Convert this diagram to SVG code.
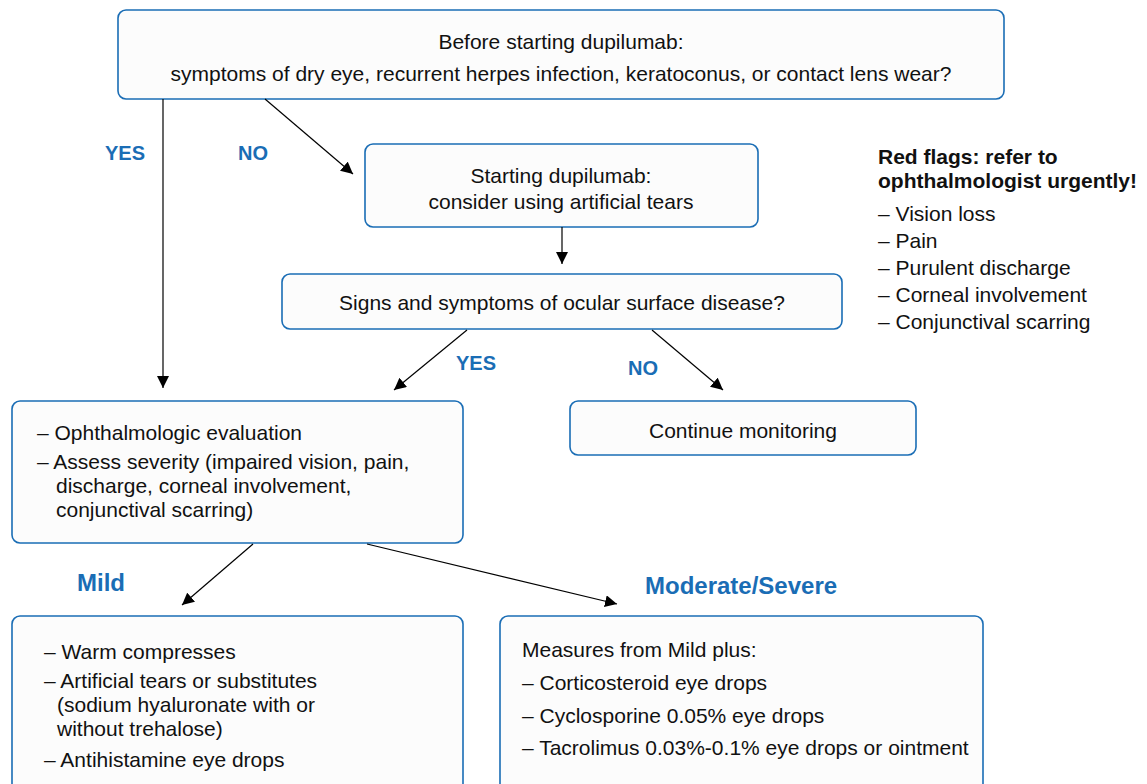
<svg xmlns="http://www.w3.org/2000/svg" width="1147" height="784" viewBox="0 0 1147 784">
<defs>
<marker id="ah" viewBox="0 0 10 10" refX="10" refY="5" markerWidth="12" markerHeight="12" markerUnits="userSpaceOnUse" orient="auto">
<path d="M0,0 L10,5 L0,10 z" fill="#000"/>
</marker>
<style>
.box{fill:#fcfcfc;stroke:#1a6db5;stroke-width:1.6}
.t{font-family:"Liberation Sans",Arial,sans-serif;font-size:21px;fill:#111}
.c{text-anchor:middle}
.lbl{font-family:"Liberation Sans",Arial,sans-serif;font-size:20px;font-weight:bold;fill:#1a6db5}
.big{font-size:24px}
.b{font-weight:bold}
.ln{stroke:#000;stroke-width:1.2;fill:none;marker-end:url(#ah)}
</style>
</defs>
<rect width="1147" height="784" fill="#fff"/>
<g id="n1"><rect class="box" x="118" y="10" width="886" height="89" rx="8"/>
<text class="t c" x="561" y="48.5">Before starting dupilumab:</text>
<text class="t c" x="561" y="80.5">symptoms of dry eye, recurrent herpes infection, keratoconus, or contact lens wear?</text></g>
<g id="n2"><rect class="box" x="365" y="144" width="393" height="83" rx="8"/>
<text class="t c" x="561" y="182.5">Starting dupilumab:</text>
<text class="t c" x="561" y="208.5">consider using artificial tears</text></g>
<g id="n3"><rect class="box" x="282" y="274" width="560" height="55" rx="8"/>
<text class="t c" x="562" y="309.5">Signs and symptoms of ocular surface disease?</text></g>
<g id="n4"><rect class="box" x="12" y="401" width="451" height="142" rx="8"/>
<text class="t" x="37" y="439.5">– Ophthalmologic evaluation</text>
<text class="t" x="37" y="468.5">– Assess severity (impaired vision, pain,</text>
<text class="t" x="56" y="492.5">discharge, corneal involvement,</text>
<text class="t" x="56" y="516.5">conjunctival scarring)</text></g>
<g id="n5"><rect class="box" x="570" y="401" width="346" height="54" rx="8"/>
<text class="t c" x="743" y="437.5">Continue monitoring</text></g>
<g id="n6"><rect class="box" x="12" y="616" width="451" height="180" rx="8"/>
<text class="t" x="44" y="658.5">– Warm compresses</text>
<text class="t" x="44" y="687.5">– Artificial tears or substitutes</text>
<text class="t" x="57" y="711.5">(sodium hyaluronate with or</text>
<text class="t" x="57" y="735.5">without trehalose)</text>
<text class="t" x="44" y="766.5">– Antihistamine eye drops</text></g>
<g id="n7"><rect class="box" x="500" y="616" width="483" height="180" rx="8"/>
<text class="t" x="522" y="656.5">Measures from Mild plus:</text>
<text class="t" x="522" y="689.5">– Corticosteroid eye drops</text>
<text class="t" x="522" y="722.5">– Cyclosporine 0.05% eye drops</text>
<text class="t" x="522" y="754.5">– Tacrolimus 0.03%-0.1% eye drops or ointment</text></g>
<g id="redflags">
<text class="t b" x="878" y="163.5">Red flags: refer to</text>
<text class="t b" x="878" y="187.5">ophthalmologist urgently!</text>
<text class="t" x="878" y="220.5">– Vision loss</text>
<text class="t" x="878" y="247.5">– Pain</text>
<text class="t" x="878" y="274.5">– Purulent discharge</text>
<text class="t" x="878" y="301.5">– Corneal involvement</text>
<text class="t" x="878" y="328.5">– Conjunctival scarring</text>
</g>
<g id="connectors">
<line class="ln" x1="163" y1="99" x2="163" y2="388"/>
<line class="ln" x1="265" y1="99" x2="353" y2="174"/>
<line class="ln" x1="562" y1="227" x2="562" y2="264"/>
<line class="ln" x1="467" y1="330" x2="394" y2="390"/>
<line class="ln" x1="652" y1="330" x2="723" y2="390"/>
<line class="ln" x1="253" y1="544" x2="182" y2="605"/>
<line class="ln" x1="367" y1="544" x2="617" y2="604"/>
</g>
<g id="labels">
<text class="lbl" x="105" y="160">YES</text>
<text class="lbl" x="238" y="160">NO</text>
<text class="lbl" x="456" y="370">YES</text>
<text class="lbl" x="628" y="375">NO</text>
<text class="lbl big" x="77" y="590.5">Mild</text>
<text class="lbl big" x="645" y="593.5">Moderate/Severe</text>
</g>
</svg>
